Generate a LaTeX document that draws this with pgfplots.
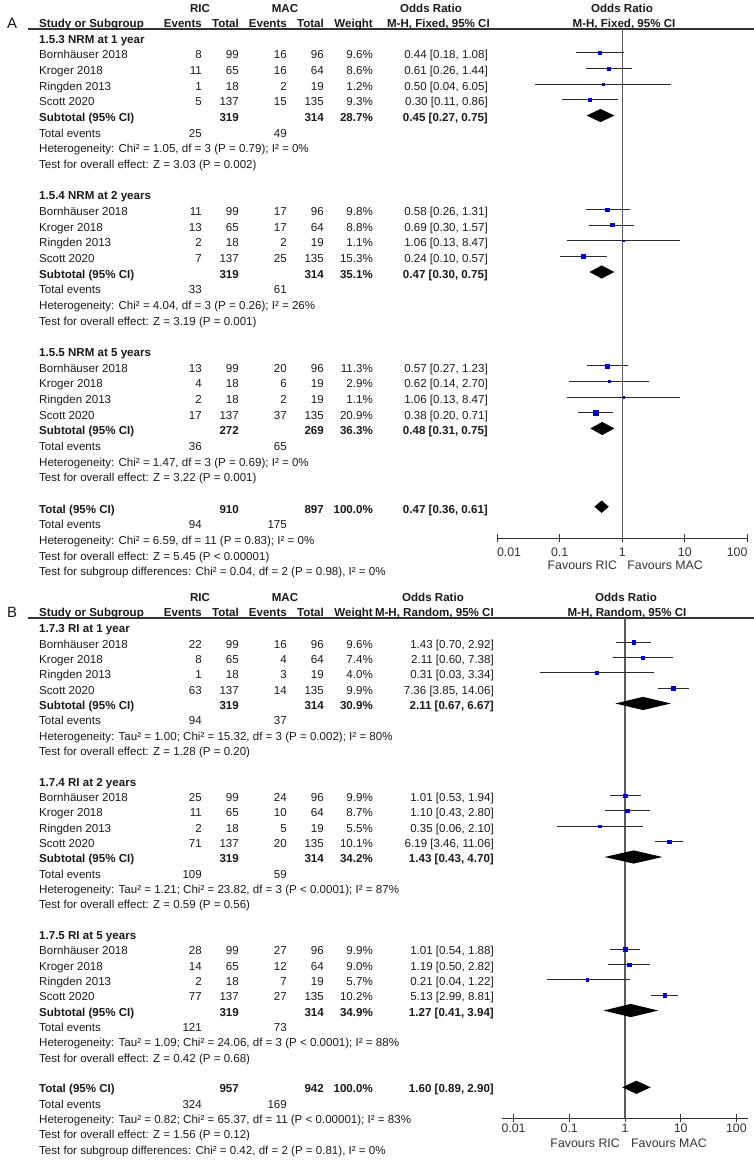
\documentclass[border=0pt]{standalone}
\usepackage{fontspec}
\setmainfont{Liberation Sans}
\usepackage{pgfplots}
\pgfplotsset{compat=1.18}
\definecolor{txt}{HTML}{1A1A1A}
\definecolor{axc}{HTML}{333333}
\definecolor{vln}{HTML}{5A5A5A}
\definecolor{cil}{HTML}{2A2A2A}
\definecolor{mblue}{HTML}{0000CC}
\newcommand\fs{\fontsize{11.6}{14}\selectfont}
\newcommand\trow[8]{%
 \node[anchor=base west] at (39,{\yz+\dy*(#1)+\toff}) {#2};
 \node[anchor=base east] at (202,{\yz+\dy*(#1)+\toff}) {#3};
 \node[anchor=base east] at (239,{\yz+\dy*(#1)+\toff}) {#4};
 \node[anchor=base east] at (287,{\yz+\dy*(#1)+\toff}) {#5};
 \node[anchor=base east] at (324,{\yz+\dy*(#1)+\toff}) {#6};
 \node[anchor=base east] at (373,{\yz+\dy*(#1)+\toff}) {#7};
 \node[anchor=base east] at (\orx,{\yz+\dy*(#1)+\toff}) {#8};
}
\newcommand\lrow[2]{\node[anchor=base west] at (39,{\yz+\dy*(#1)+\toff}) {#2};}
\pgfplotsset{
 myci/.style={draw=cil, line width=0.9bp, mark=none},
 mydia/.style={fill=black, draw=none, mark=none},
 mysq/.style={scatter, only marks, mark=square*,
  scatter/use mapped color={draw=mblue, fill=mblue},
  visualization depends on={max(0.9,0.55*sqrt(\thisrow{w})) \as \msz},
  scatter/@pre marker code/.append style={/tikz/mark size=\msz}},
}
\begin{document}
\begin{tikzpicture}
% ---------------- text, panel A
\begin{scope}[x=1bp,y=-1bp, every node/.style={inner sep=0pt, text=txt, font=\fs}]
\node[font=\fontsize{15}{17}\selectfont, anchor=base] at (12,28.4) {A};
\draw[axc, line width=1.2bp] (28,29) -- (754,29);
\node[anchor=base] at (200,12.5) {\textbf{RIC}};
\node[anchor=base] at (285,12.5) {\textbf{MAC}};
\node[anchor=base] at (431,12.5) {\textbf{Odds Ratio}};
\node[anchor=base] at (622,12.5) {\textbf{Odds Ratio}};
\node[anchor=base west] at (39,27.5) {\textbf{Study or Subgroup}};
\node[anchor=base east] at (202,27.5) {\textbf{Events}};
\node[anchor=base east] at (239,27.5) {\textbf{Total}};
\node[anchor=base east] at (287,27.5) {\textbf{Events}};
\node[anchor=base east] at (324,27.5) {\textbf{Total}};
\node[anchor=base east] at (373,27.5) {\textbf{Weight}};
\node[anchor=base east] at (490,27.5) {\textbf{M-H, Fixed, 95\% CI}};
\node[anchor=base] at (624,27.5) {\textbf{M-H, Fixed, 95\% CI}};
\def\yz{37.3}\def\dy{15.66}\def\toff{6}\def\orx{488}
\lrow{0}{\textbf{1.5.3 NRM at 1 year}}
\trow{1}{Bornhäuser 2018}{8}{99}{16}{96}{9.6\%}{0.44 [0.18, 1.08]}
\trow{2}{Kroger 2018}{11}{65}{16}{64}{8.6\%}{0.61 [0.26, 1.44]}
\trow{3}{Ringden 2013}{1}{18}{2}{19}{1.2\%}{0.50 [0.04, 6.05]}
\trow{4}{Scott 2020}{5}{137}{15}{135}{9.3\%}{0.30 [0.11, 0.86]}
\trow{5}{\textbf{Subtotal (95\% CI)}}{}{\textbf{319}}{}{\textbf{314}}{\textbf{28.7\%}}{\textbf{0.45 [0.27, 0.75]}}
\trow{6}{Total events}{25}{}{49}{}{}{}
\lrow{7}{Heterogeneity: Chi² = 1.05, df = 3 (P = 0.79); I² = 0\%}
\lrow{8}{Test for overall effect: Z = 3.03 (P = 0.002)}
\lrow{10}{\textbf{1.5.4 NRM at 2 years}}
\trow{11}{Bornhäuser 2018}{11}{99}{17}{96}{9.8\%}{0.58 [0.26, 1.31]}
\trow{12}{Kroger 2018}{13}{65}{17}{64}{8.8\%}{0.69 [0.30, 1.57]}
\trow{13}{Ringden 2013}{2}{18}{2}{19}{1.1\%}{1.06 [0.13, 8.47]}
\trow{14}{Scott 2020}{7}{137}{25}{135}{15.3\%}{0.24 [0.10, 0.57]}
\trow{15}{\textbf{Subtotal (95\% CI)}}{}{\textbf{319}}{}{\textbf{314}}{\textbf{35.1\%}}{\textbf{0.47 [0.30, 0.75]}}
\trow{16}{Total events}{33}{}{61}{}{}{}
\lrow{17}{Heterogeneity: Chi² = 4.04, df = 3 (P = 0.26); I² = 26\%}
\lrow{18}{Test for overall effect: Z = 3.19 (P = 0.001)}
\lrow{20}{\textbf{1.5.5 NRM at 5 years}}
\trow{21}{Bornhäuser 2018}{13}{99}{20}{96}{11.3\%}{0.57 [0.27, 1.23]}
\trow{22}{Kroger 2018}{4}{18}{6}{19}{2.9\%}{0.62 [0.14, 2.70]}
\trow{23}{Ringden 2013}{2}{18}{2}{19}{1.1\%}{1.06 [0.13, 8.47]}
\trow{24}{Scott 2020}{17}{137}{37}{135}{20.9\%}{0.38 [0.20, 0.71]}
\trow{25}{\textbf{Subtotal (95\% CI)}}{}{\textbf{272}}{}{\textbf{269}}{\textbf{36.3\%}}{\textbf{0.48 [0.31, 0.75]}}
\trow{26}{Total events}{36}{}{65}{}{}{}
\lrow{27}{Heterogeneity: Chi² = 1.47, df = 3 (P = 0.69); I² = 0\%}
\lrow{28}{Test for overall effect: Z = 3.22 (P = 0.001)}
\trow{30}{\textbf{Total (95\% CI)}}{}{\textbf{910}}{}{\textbf{897}}{\textbf{100.0\%}}{\textbf{0.47 [0.36, 0.61]}}
\trow{31}{Total events}{94}{}{175}{}{}{}
\lrow{32}{Heterogeneity: Chi² = 6.59, df = 11 (P = 0.83); I² = 0\%}
\lrow{33}{Test for overall effect: Z = 5.45 (P < 0.00001)}
\lrow{34}{Test for subgroup differences: Chi² = 0.04, df = 2 (P = 0.98), I² = 0\%}
\end{scope}
% ---------------- text, panel B
\begin{scope}[x=1bp,y=-1bp, every node/.style={inner sep=0pt, text=txt, font=\fs}]
\node[font=\fontsize{15}{17}\selectfont, anchor=base] at (12,617.4) {B};
\draw[axc, line width=1.2bp] (28,618) -- (754,618);
\node[anchor=base] at (200,601.5) {\textbf{RIC}};
\node[anchor=base] at (285,601.5) {\textbf{MAC}};
\node[anchor=base] at (433,601.5) {\textbf{Odds Ratio}};
\node[anchor=base] at (626,601.5) {\textbf{Odds Ratio}};
\node[anchor=base west] at (39,616.5) {\textbf{Study or Subgroup}};
\node[anchor=base east] at (202,616.5) {\textbf{Events}};
\node[anchor=base east] at (239,616.5) {\textbf{Total}};
\node[anchor=base east] at (287,616.5) {\textbf{Events}};
\node[anchor=base east] at (324,616.5) {\textbf{Total}};
\node[anchor=base east] at (373,616.5) {\textbf{Weight}};
\node[anchor=base east] at (494,616.5) {\textbf{M-H, Random, 95\% CI}};
\node[anchor=base] at (627,616.5) {\textbf{M-H, Random, 95\% CI}};
\def\yz{626.7}\def\dy{15.34}\def\toff{6}\def\orx{494}
\lrow{0}{\textbf{1.7.3 RI at 1 year}}
\trow{1}{Bornhäuser 2018}{22}{99}{16}{96}{9.6\%}{1.43 [0.70, 2.92]}
\trow{2}{Kroger 2018}{8}{65}{4}{64}{7.4\%}{2.11 [0.60, 7.38]}
\trow{3}{Ringden 2013}{1}{18}{3}{19}{4.0\%}{0.31 [0.03, 3.34]}
\trow{4}{Scott 2020}{63}{137}{14}{135}{9.9\%}{7.36 [3.85, 14.06]}
\trow{5}{\textbf{Subtotal (95\% CI)}}{}{\textbf{319}}{}{\textbf{314}}{\textbf{30.9\%}}{\textbf{2.11 [0.67, 6.67]}}
\trow{6}{Total events}{94}{}{37}{}{}{}
\lrow{7}{Heterogeneity: Tau² = 1.00; Chi² = 15.32, df = 3 (P = 0.002); I² = 80\%}
\lrow{8}{Test for overall effect: Z = 1.28 (P = 0.20)}
\lrow{10}{\textbf{1.7.4 RI at 2 years}}
\trow{11}{Bornhäuser 2018}{25}{99}{24}{96}{9.9\%}{1.01 [0.53, 1.94]}
\trow{12}{Kroger 2018}{11}{65}{10}{64}{8.7\%}{1.10 [0.43, 2.80]}
\trow{13}{Ringden 2013}{2}{18}{5}{19}{5.5\%}{0.35 [0.06, 2.10]}
\trow{14}{Scott 2020}{71}{137}{20}{135}{10.1\%}{6.19 [3.46, 11.06]}
\trow{15}{\textbf{Subtotal (95\% CI)}}{}{\textbf{319}}{}{\textbf{314}}{\textbf{34.2\%}}{\textbf{1.43 [0.43, 4.70]}}
\trow{16}{Total events}{109}{}{59}{}{}{}
\lrow{17}{Heterogeneity: Tau² = 1.21; Chi² = 23.82, df = 3 (P < 0.0001); I² = 87\%}
\lrow{18}{Test for overall effect: Z = 0.59 (P = 0.56)}
\lrow{20}{\textbf{1.7.5 RI at 5 years}}
\trow{21}{Bornhäuser 2018}{28}{99}{27}{96}{9.9\%}{1.01 [0.54, 1.88]}
\trow{22}{Kroger 2018}{14}{65}{12}{64}{9.0\%}{1.19 [0.50, 2.82]}
\trow{23}{Ringden 2013}{2}{18}{7}{19}{5.7\%}{0.21 [0.04, 1.22]}
\trow{24}{Scott 2020}{77}{137}{27}{135}{10.2\%}{5.13 [2.99, 8.81]}
\trow{25}{\textbf{Subtotal (95\% CI)}}{}{\textbf{319}}{}{\textbf{314}}{\textbf{34.9\%}}{\textbf{1.27 [0.41, 3.94]}}
\trow{26}{Total events}{121}{}{73}{}{}{}
\lrow{27}{Heterogeneity: Tau² = 1.09; Chi² = 24.06, df = 3 (P < 0.0001); I² = 88\%}
\lrow{28}{Test for overall effect: Z = 0.42 (P = 0.68)}
\trow{30}{\textbf{Total (95\% CI)}}{}{\textbf{957}}{}{\textbf{942}}{\textbf{100.0\%}}{\textbf{1.60 [0.89, 2.90]}}
\trow{31}{Total events}{324}{}{169}{}{}{}
\lrow{32}{Heterogeneity: Tau² = 0.82; Chi² = 65.37, df = 11 (P < 0.00001); I² = 83\%}
\lrow{33}{Test for overall effect: Z = 1.56 (P = 0.12)}
\lrow{34}{Test for subgroup differences: Chi² = 0.42, df = 2 (P = 0.81), I² = 0\%}
\end{scope}
% ---------------- forest A
\begin{axis}[at={(497bp,-538bp)}, anchor=south west, scale only axis,
  width=250.4bp, height=509bp,
  xmode=log, xmin=0.01, xmax=100, ymin=-32, ymax=0.53,
  axis y line=none, axis x line*=bottom,
  x axis line style={-, draw=axc, line width=0.9bp},
  xtick={0.01,0.1,1,10,100},
  xticklabels={\makebox[0pt][l]{0.01},0.1,1,10,\makebox[0pt][r]{100}},
  xminorticks=false,
  tick align=center, major tick length=8bp,
  tick style={draw=axc, line width=0.9bp},
  clip=false, unbounded coords=jump,
  xticklabel style={font=\fontsize{12.4}{15}\selectfont, text=axc, anchor=base, inner sep=0pt, yshift=-14.6bp}]
\draw[vln, line width=1.1bp] (axis cs:1,0.53) -- (axis cs:1,-32);
\addplot[myci] coordinates {
 (0.18,-1) (1.08,-1) (nan,nan) (0.26,-2) (1.44,-2) (nan,nan)
 (0.04,-3) (6.05,-3) (nan,nan) (0.11,-4) (0.86,-4) (nan,nan)
 (0.26,-11) (1.31,-11) (nan,nan) (0.30,-12) (1.57,-12) (nan,nan)
 (0.13,-13) (8.47,-13) (nan,nan) (0.10,-14) (0.57,-14) (nan,nan)
 (0.27,-21) (1.23,-21) (nan,nan) (0.14,-22) (2.70,-22) (nan,nan)
 (0.13,-23) (8.47,-23) (nan,nan) (0.20,-24) (0.71,-24)};
\addplot[mysq] table[x=or, y=row] {
row or w
-1 0.44 9.6
-2 0.61 8.6
-3 0.50 1.2
-4 0.30 9.3
-11 0.58 9.8
-12 0.69 8.8
-13 1.06 1.1
-14 0.24 15.3
-21 0.57 11.3
-22 0.62 2.9
-23 1.06 1.1
-24 0.38 20.9
};
\addplot[mydia] coordinates {(0.27,-5) (0.45,-4.58) (0.75,-5) (0.45,-5.42)} --cycle;
\addplot[mydia] coordinates {(0.30,-15) (0.47,-14.58) (0.75,-15) (0.47,-15.42)} --cycle;
\addplot[mydia] coordinates {(0.31,-25) (0.48,-24.58) (0.75,-25) (0.48,-25.42)} --cycle;
\addplot[mydia] coordinates {(0.36,-30) (0.47,-29.6) (0.61,-30) (0.47,-30.4)} --cycle;
\node[anchor=base east, font=\fontsize{12.4}{15}\selectfont, text=axc, inner sep=0pt, xshift=-5bp, yshift=-31.6bp] at (axis cs:1,-32) {Favours RIC};
\node[anchor=base west, font=\fontsize{12.4}{15}\selectfont, text=axc, inner sep=0pt, xshift=5bp, yshift=-31.6bp] at (axis cs:1,-32) {Favours MAC};
\end{axis}
% ---------------- forest B
\begin{axis}[at={(502bp,-1118bp)}, anchor=south west, scale only axis,
  width=246bp, height=500bp,
  xmode=log, xmin=0.0062, xmax=161.5, ymin=-32, ymax=0.567,
  axis y line=none, axis x line*=bottom,
  x axis line style={-, draw=axc, line width=0.9bp},
  xtick={0.01,0.1,1,10,100}, xticklabels={0.01,0.1,1,10,100},
  xminorticks=false,
  tick align=center, major tick length=8bp,
  tick style={draw=axc, line width=0.9bp},
  clip=false, unbounded coords=jump,
  xticklabel style={font=\fontsize{12.4}{15}\selectfont, text=axc, anchor=base, inner sep=0pt, yshift=-10bp}]
\draw[vln, line width=1.1bp] (axis cs:1,0.567) -- (axis cs:1,-32);
\addplot[myci] coordinates {
 (0.70,-1) (2.92,-1) (nan,nan) (0.60,-2) (7.38,-2) (nan,nan)
 (0.03,-3) (3.34,-3) (nan,nan) (3.85,-4) (14.06,-4) (nan,nan)
 (0.53,-11) (1.94,-11) (nan,nan) (0.43,-12) (2.80,-12) (nan,nan)
 (0.06,-13) (2.10,-13) (nan,nan) (3.46,-14) (11.06,-14) (nan,nan)
 (0.54,-21) (1.88,-21) (nan,nan) (0.50,-22) (2.82,-22) (nan,nan)
 (0.04,-23) (1.22,-23) (nan,nan) (2.99,-24) (8.81,-24)};
\addplot[mysq] table[x=or, y=row] {
row or w
-1 1.43 9.6
-2 2.11 7.4
-3 0.31 4.0
-4 7.36 9.9
-11 1.01 9.9
-12 1.10 8.7
-13 0.35 5.5
-14 6.19 10.1
-21 1.01 9.9
-22 1.19 9.0
-23 0.21 5.7
-24 5.13 10.2
};
\addplot[mydia] coordinates {(0.67,-5) (2.11,-4.57) (6.67,-5) (2.11,-5.43)} --cycle;
\addplot[mydia] coordinates {(0.43,-15) (1.43,-14.57) (4.70,-15) (1.43,-15.43)} --cycle;
\addplot[mydia] coordinates {(0.41,-25) (1.27,-24.57) (3.94,-25) (1.27,-25.43)} --cycle;
\addplot[mydia] coordinates {(0.89,-30) (1.60,-29.57) (2.90,-30) (1.60,-30.43)} --cycle;
\node[anchor=base east, font=\fontsize{12.4}{15}\selectfont, text=axc, inner sep=0pt, xshift=-5bp, yshift=-29.6bp] at (axis cs:1,-32) {Favours RIC};
\node[anchor=base west, font=\fontsize{12.4}{15}\selectfont, text=axc, inner sep=0pt, xshift=6bp, yshift=-29.6bp] at (axis cs:1,-32) {Favours MAC};
\end{axis}
\pgfresetboundingbox
\path[use as bounding box] (0,0) rectangle (754bp,-1165bp);
\end{tikzpicture}
\end{document}
